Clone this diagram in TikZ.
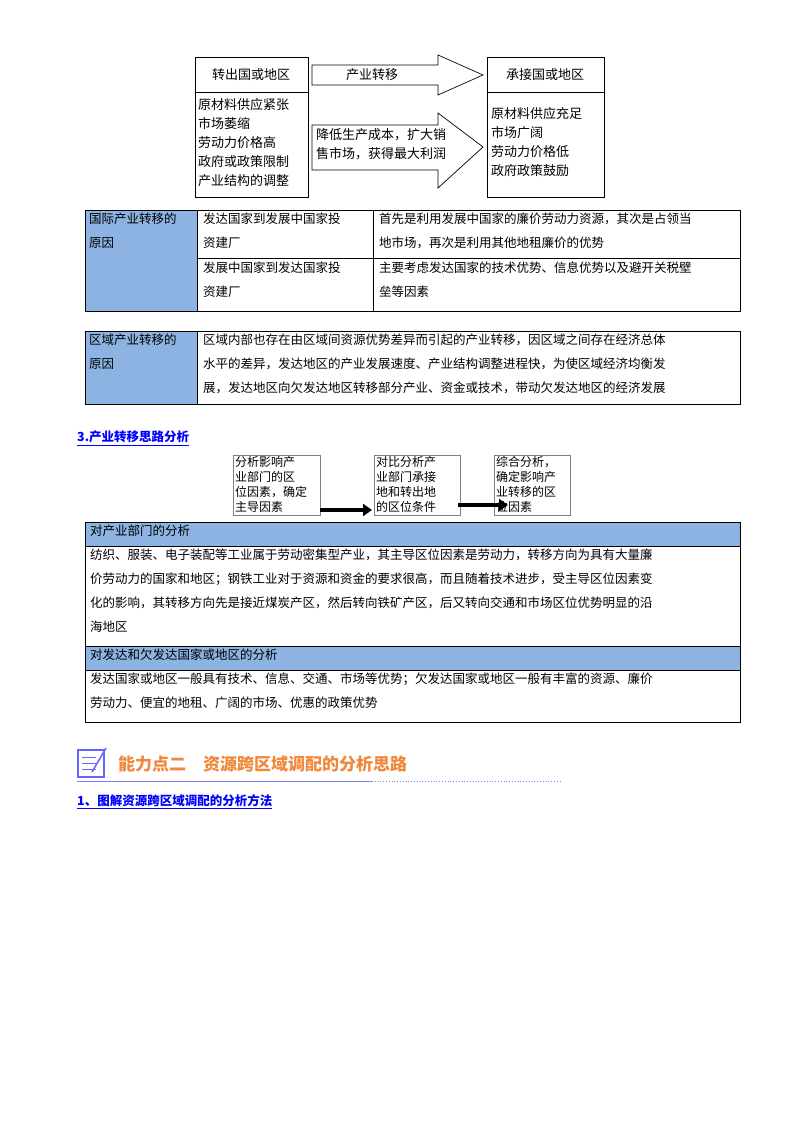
\documentclass[tikz,border=0pt]{standalone}
\usepackage{fontspec}
\setmainfont{Noto Sans CJK SC}
\usetikzlibrary{shapes.arrows,arrows.meta}
\definecolor{hdblue}{HTML}{8DB3E2}
\definecolor{linkblue}{HTML}{0000FF}
\definecolor{ttlorange}{HTML}{F0873A}
\begin{document}
\begin{tikzpicture}[x=1pt,y=-1pt,
    txt/.style={inner sep=0pt,anchor=north west,align=left,font=\fontsize{12.5}{24}\selectfont},
    box/.style={draw,line width=.6pt},
    cell/.style={draw,line width=.6pt},
    head/.style={cell,fill=hdblue},
    dia/.style={inner sep=0pt,align=left,font=\fontsize{13}{19}\selectfont},
    fat/.style={draw,line width=.7pt,fill=white},
    blk/.style={line width=4pt,-{Triangle[length=9pt,width=12pt]}}]
  \useasboundingbox (0,0) rectangle (800,1134);

  % top diagram
  \draw[box] (195,57) rectangle (308,197);
  \draw[box] (195,92) -- (308,92);
  \node[dia] (out) at (251,75) {转出国或地区};
  \node[dia,anchor=north west] (outlist) at (198,98) {原材料供应紧张\\市场萎缩\\劳动力价格高\\政府或政策限制\\产业结构的调整};
  \draw[box] (487,57) rectangle (604,197);
  \draw[box] (487,92) -- (604,92);
  \node[dia] (in) at (545,75) {承接国或地区};
  \node[dia,anchor=north west] (inlist) at (491,107) {原材料供应充足\\市场广阔\\劳动力价格低\\政府政策鼓励};
  \draw[fat] (312,65) -- (438,65) -- (438,55) -- (483,75) -- (438,95) -- (438,85) -- (312,85) -- cycle;
  \node[dia] (move) at (372,75) {产业转移};
  \draw[fat] (312,125) -- (438,125) -- (438,113) -- (483,147) -- (438,188) -- (438,170) -- (312,170) -- cycle;
  \node[dia,anchor=north west] (why) at (316,128) {降低生产成本，扩大销\\售市场，获得最大利润};

  % table 1
  \draw[head] (85,210) rectangle (197,311);
  \draw[cell] (197,210) rectangle (740,311);
  \draw[cell] (373,210) -- (373,311);
  \draw[cell] (197,258) -- (740,258);
  \node[txt] (r1) at (89,213) {国际产业转移的\\原因};
  \node[txt] (a1) at (203,213) {发达国家到发展中国家投\\资建厂};
  \node[txt] (b1) at (379,213) {首先是利用发展中国家的廉价劳动力资源，其次是占领当\\地市场，再次是利用其他地租廉价的优势};
  \node[txt] (a2) at (203,262) {发展中国家到发达国家投\\资建厂};
  \node[txt] (b2) at (379,262) {主要考虑发达国家的技术优势、信息优势以及避开关税壁\\垒等因素};

  % table 2
  \draw[head] (85,331) rectangle (197,404);
  \draw[cell] (197,331) rectangle (740,404);
  \node[txt] (r2) at (89,334) {区域产业转移的\\原因};
  \node[txt] (c1) at (203,334) {区域内部也存在由区域间资源优势差异而引起的产业转移，因区域之间存在经济总体\\水平的差异，发达地区的产业发展速度、产业结构调整进程快，为使区域经济均衡发\\展，发达地区向欠发达地区转移部分产业、资金或技术，带动欠发达地区的经济发展};

  % section 3
  \node[txt,text=linkblue,font=\fontsize{12.5}{15}\bfseries] (sec3) at (77,431) {\underline{3.产业转移思路分析}};
  \draw[line width=.4pt,gray] (233,455) rectangle (320,515);
  \draw[line width=.4pt,gray] (374,455) rectangle (460,515);
  \draw[line width=.4pt,gray] (494,455) rectangle (570,515);
  \node[dia,anchor=north west,font=\fontsize{12}{15}\selectfont] (s1) at (235,456) {分析影响产\\业部门的区\\位因素，确定\\主导因素};
  \node[dia,anchor=north west,font=\fontsize{12}{15}\selectfont] (s2) at (376,456) {对比分析产\\业部门承接\\地和转出地\\的区位条件};
  \node[dia,anchor=north west,font=\fontsize{12}{15}\selectfont] (s3) at (496,456) {综合分析，\\确定影响产\\业转移的区\\位因素};
  \draw[blk] (320,510) -- (372,510);
  \draw[blk] (458,505) -- (508,505);

  % table 3
  \draw[head] (85,522) rectangle (740,546);
  \draw[cell] (85,546) rectangle (740,646);
  \draw[head] (85,646) rectangle (740,670);
  \draw[cell] (85,670) rectangle (740,722);
  \node[txt] (h1) at (90,525) {对产业部门的分析};
  \node[txt] (t1) at (90,549) {纺织、服装、电子装配等工业属于劳动密集型产业，其主导区位因素是劳动力，转移方向为具有大量廉\\价劳动力的国家和地区；钢铁工业对于资源和资金的要求很高，而且随着技术进步，受主导区位因素变\\化的影响，其转移方向先是接近煤炭产区，然后转向铁矿产区，后又转向交通和市场区位优势明显的沿\\海地区};
  \node[txt] (h2) at (90,649) {对发达和欠发达国家或地区的分析};
  \node[txt] (t2) at (90,673) {发达国家或地区一般具有技术、信息、交通、市场等优势；欠发达国家或地区一般有丰富的资源、廉价\\劳动力、便宜的地租、广阔的市场、优惠的政策优势};

  % heading
  \draw[line width=1.2pt,color=blue!60] (78,750) rectangle (104,777);
  \foreach \yy in {757,763,769} \draw[blue!60,line width=1pt] (82,\yy) -- (96,\yy);
  \draw[blue!60,line width=1.5pt] (92,772) -- (106,748);
  \node[anchor=west,inner sep=0pt,text=ttlorange,font=\fontsize{17}{20}\bfseries] (title) at (118,764) {能力点二\quad 资源跨区域调配的分析思路};
  \draw[blue!50,line width=.8pt] (77,781) -- (372,781);
  \draw[blue!50,line width=.8pt,dotted] (372,781) -- (562,781);
  \node[txt,text=linkblue,font=\fontsize{12.5}{15}\bfseries] (sub) at (77,794) {\underline{1、图解资源跨区域调配的分析方法}};
\end{tikzpicture}
\end{document}
